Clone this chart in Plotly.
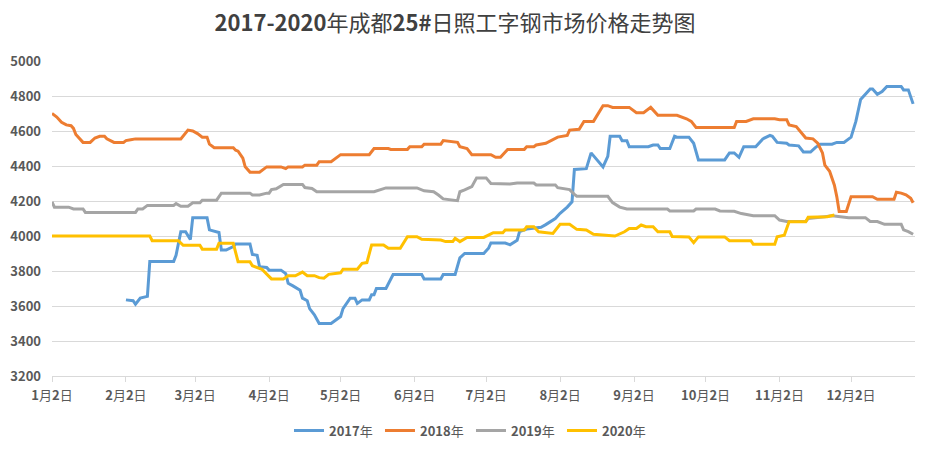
import plotly.graph_objects as go

# ---- data (dates as month-day, values in yuan/ton) ----
d2017 = ["02-02","02-05","02-06","02-08","02-11","02-12","02-22","02-23","02-25","02-27","02-29","03-01","03-07","03-08","03-12","03-13","03-15","03-18","03-19","03-25","03-26","03-28","03-29","04-01","04-02","04-07","04-09","04-10","04-12","04-15","04-16","04-18","04-19","04-21","04-23","04-28","05-02","05-03","05-06","05-08","05-09","05-11","05-14","05-15","05-16","05-17","05-21","05-24","06-05","06-06","06-13","06-14","06-19","06-21","06-23","07-01","07-03","07-04","07-10","07-12","07-15","07-16","07-19","07-25","07-27","07-31","08-02","08-05","08-07","08-08","08-13","08-15","08-20","08-22","08-23","08-27","08-28","08-30","08-31","09-08","09-10","09-12","09-13","09-17","09-19","09-20","09-25","09-27","09-29","10-10","10-12","10-14","10-16","10-18","10-23","10-26","10-29","10-30","11-01","11-05","11-06","11-10","11-12","11-15","11-17","11-19","11-24","11-26","11-29","12-02","12-04","12-06","12-10","12-11","12-13","12-15","12-17","12-23","12-24","12-26","12-28"]
v2017 = [3635,3630,3610,3645,3655,3855,3855,3890,4025,4025,3980,4105,4105,4035,4020,3920,3920,3940,3955,3955,3895,3890,3825,3820,3805,3805,3785,3730,3715,3690,3645,3630,3585,3550,3500,3500,3540,3585,3645,3645,3615,3635,3635,3665,3665,3700,3700,3780,3780,3755,3755,3780,3780,3875,3900,3900,3930,3960,3960,3950,3975,4025,4040,4050,4065,4100,4130,4165,4195,4380,4385,4475,4395,4455,4570,4570,4545,4545,4510,4510,4520,4520,4500,4500,4570,4565,4565,4530,4435,4435,4475,4475,4450,4510,4510,4555,4575,4570,4535,4530,4520,4515,4480,4480,4505,4525,4525,4535,4535,4565,4655,4780,4840,4840,4810,4825,4855,4855,4835,4835,4755]

d2018 = ["01-02","01-04","01-06","01-08","01-10","01-11","01-12","01-15","01-18","01-20","01-22","01-24","01-25","01-28","02-01","02-02","02-04","02-06","02-25","02-28","03-01","03-03","03-05","03-07","03-08","03-10","03-18","03-19","03-20","03-22","03-23","03-25","03-29","04-01","04-07","04-09","04-10","04-16","04-17","04-22","04-23","04-28","05-02","05-14","05-16","05-22","05-23","05-30","05-31","06-05","06-06","06-13","06-14","06-20","06-21","06-24","06-26","07-04","07-06","07-08","07-11","07-18","07-19","07-22","07-23","07-27","08-01","08-05","08-06","08-10","08-12","08-16","08-20","08-22","08-24","08-31","09-03","09-06","09-09","09-12","09-20","09-24","09-26","09-28","10-14","10-15","10-19","10-22","10-31","11-02","11-05","11-06","11-09","11-11","11-13","11-16","11-18","11-20","11-21","11-23","11-25","11-26","11-27","11-30","12-02","12-11","12-13","12-20","12-21","12-23","12-25","12-27","12-28"]
v2018 = [4700,4680,4650,4635,4630,4615,4580,4535,4535,4560,4570,4570,4555,4535,4535,4545,4550,4555,4555,4605,4600,4585,4565,4565,4525,4505,4505,4490,4485,4445,4395,4365,4365,4395,4395,4385,4395,4395,4405,4405,4425,4425,4465,4465,4500,4500,4495,4495,4510,4510,4525,4525,4545,4535,4510,4500,4465,4465,4450,4450,4495,4495,4510,4510,4520,4530,4565,4575,4605,4610,4655,4655,4745,4745,4735,4735,4705,4705,4735,4690,4690,4670,4655,4620,4620,4655,4655,4670,4670,4665,4665,4635,4625,4595,4560,4555,4530,4475,4405,4370,4290,4225,4140,4140,4225,4225,4210,4210,4250,4245,4235,4215,4190]

d2019 = ["01-02","01-03","01-09","01-11","01-15","01-16","02-06","02-07","02-09","02-11","02-22","02-23","02-25","02-28","03-01","03-04","03-05","03-11","03-13","03-25","03-26","03-29","04-01","04-02","04-03","04-05","04-08","04-16","04-17","04-20","04-22","05-16","05-21","06-03","06-06","06-10","06-12","06-14","06-20","06-21","06-23","06-26","06-28","07-02","07-04","07-12","07-15","07-22","07-23","07-31","08-01","08-06","08-08","08-09","08-22","08-24","08-27","08-30","09-16","09-17","09-27","09-28","10-06","10-08","10-14","10-17","10-22","10-31","11-02","11-05","11-13","11-14","11-21","11-24","12-01","12-08","12-10","12-13","12-16","12-23","12-24","12-26","12-28"]
v2019 = [4195,4165,4165,4155,4155,4135,4135,4155,4155,4175,4175,4185,4170,4170,4190,4190,4205,4205,4245,4245,4235,4235,4245,4245,4265,4270,4295,4295,4277,4272,4253,4253,4275,4275,4258,4253,4234,4212,4202,4253,4263,4282,4332,4332,4300,4297,4303,4303,4292,4292,4276,4265,4238,4227,4227,4191,4165,4154,4154,4143,4143,4154,4154,4143,4141,4128,4116,4116,4091,4083,4083,4100,4110,4115,4105,4105,4083,4083,4067,4067,4035,4025,4010]

d2020 = ["01-02","02-12","02-13","02-24","02-26","03-04","03-05","03-11","03-12","03-18","03-20","03-25","03-26","03-30","04-03","04-08","04-10","04-13","04-16","04-18","04-21","04-23","04-25","04-27","05-02","05-03","05-09","05-11","05-13","05-15","05-20","05-22","05-27","05-30","06-03","06-05","06-13","06-15","06-18","06-19","06-21","06-24","07-01","07-05","07-09","07-10","07-18","07-19","07-22","07-24","07-30","08-02","08-06","08-09","08-13","08-16","08-25","08-29","08-31","09-03","09-05","09-07","09-10","09-12","09-17","09-18","09-25","09-27","09-29","10-10","10-12","10-21","10-22","10-31","11-01","11-04","11-06","11-13","11-14","11-22","11-25"]
v2020 = [4000,4000,3973,3973,3947,3947,3925,3925,3958,3958,3853,3853,3830,3810,3755,3755,3773,3773,3794,3773,3773,3762,3759,3781,3790,3810,3810,3844,3848,3949,3949,3930,3930,3996,3996,3981,3977,3968,3968,3987,3968,3992,3992,4019,4019,4034,4034,4053,4053,4024,4015,4067,4067,4038,4034,4010,4000,4024,4043,4043,4063,4053,4053,4024,4024,3997,3995,3962,3995,3995,3973,3973,3953,3953,3995,4005,4082,4082,4107,4110,4120]

series_names = ["2017年", "2018年", "2019年", "2020年"]
colors = ["#5B9BD5", "#ED7D31", "#A5A5A5", "#FFC000"]

tick_months = list(range(1, 13))
tick_labels = [f"<b>{m}</b>月<b>2</b>日" for m in tick_months]

BASE_YEAR = "2020"
def to_dates(md):
    return [f"{BASE_YEAR}-{s}" for s in md]

fig = go.Figure()
for name, d, v, c in zip(series_names, [d2017, d2018, d2019, d2020],
                         [v2017, v2018, v2019, v2020], colors):
    fig.add_trace(go.Scatter(x=to_dates(d), y=v, mode="lines",
                             name=f"<b>{name[:-1]}</b>{name[-1]}",
                             line=dict(color=c, width=3)))

tick_vals = [f"{BASE_YEAR}-{m:02d}-02" for m in tick_months]
font_family = "Noto Sans CJK SC, Noto Sans, sans-serif"

fig.update_layout(
    width=931, height=453,
    margin=dict(l=52, r=16, t=61, b=77, autoexpand=False),
    paper_bgcolor="white", plot_bgcolor="white",
    title=dict(text="<b>2017-2020</b>年成都<b>25#</b>日照工字钢市场价格走势图",
               x=455/931, xanchor="center", y=1 - 23/453, yanchor="middle",
               font=dict(family=font_family, size=22, color="#404040")),
    showlegend=True,
    legend=dict(orientation="h", x=452/931, xanchor="center", y=-0.173, yanchor="middle",
                font=dict(family=font_family, size=13, color="#595959"),
                itemwidth=30, tracegroupgap=0, entrywidth=46, entrywidthmode="pixels"),
    xaxis=dict(type="date", range=[f"{BASE_YEAR}-01-02", f"{BASE_YEAR}-12-28 19:00"],
               tickvals=tick_vals, ticktext=tick_labels,
               showgrid=False, showline=True, linecolor="#D9D9D9", linewidth=1,
               ticks="outside", ticklen=5, tickcolor="#D9D9D9",
               ticklabelstandoff=2,
               tickfont=dict(family=font_family, size=13, color="#595959"),
               zeroline=False),
    yaxis=dict(range=[3200, 5000], dtick=200, tick0=3200,
               showgrid=True, gridcolor="#D9D9D9", gridwidth=1,
               showline=False, zeroline=False, ticks="",
               ticklabelstandoff=10,
               tickfont=dict(family=font_family, size=13, color="#595959", weight="bold")),
)

fig.write_html("out.html", config={"displayModeBar": False},
               post_script="document.body.style.margin='0';")
